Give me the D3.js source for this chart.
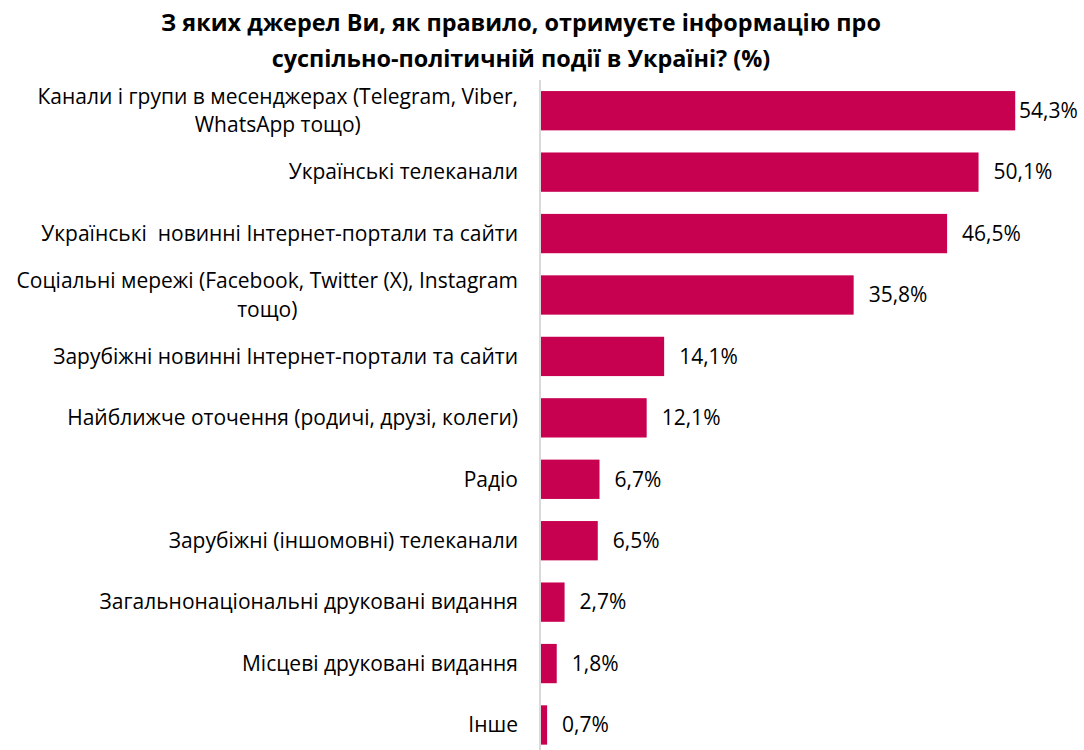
<!DOCTYPE html>
<html>
<head>
<meta charset="utf-8">
<script src="https://cdn.jsdelivr.net/npm/d3@7"></script>
<style>
  html, body { margin: 0; padding: 0; background: #fff; }
  svg { display: block; }
  text { white-space: pre; }
</style>
</head>
<body>
<svg id="chart" width="1084" height="750"></svg>
<script>
const titleLines = [
  "З яких джерел Ви, як правило, отримуєте інформацію про",
  "суспільно-політичній події в Україні? (%)"
];
const categories = [
  "Канали і групи в месенджерах (Telegram, Viber,\nWhatsApp тощо)",
  "Українські телеканали",
  "Українські  новинні Інтернет-портали та сайти",
  "Соціальні мережі (Facebook, Twitter (X), Instagram\nтощо)",
  "Зарубіжні новинні Інтернет-портали та сайти",
  "Найближче оточення (родичі, друзі, колеги)",
  "Радіо",
  "Зарубіжні (іншомовні) телеканали",
  "Загальнонаціональні друковані видання",
  "Місцеві друковані видання",
  "Інше"
];
const values = [54.3, 50.1, 46.5, 35.8, 14.1, 12.1, 6.7, 6.5, 2.7, 1.8, 0.7];
const valueLabels = ["54,3%", "50,1%", "46,5%", "35,8%", "14,1%", "12,1%", "6,7%", "6,5%", "2,7%", "1,8%", "0,7%"];

const W = 1084, H = 750;
const svg = d3.select("#chart");
const FONT = "'Open Sans', 'Noto Sans', sans-serif";
const BAR = "#C7004F";

const x = d3.scaleLinear().domain([0, 60]).range([541, 1065]);
const y = d3.scaleBand().domain(categories).range([80, 755.7])
  .paddingInner(0.36).paddingOuter(0.18);

// Title
svg.append("g").selectAll("text").data(titleLines).join("text")
  .attr("x", 521)
  .attr("y", (d, i) => 31 + i * 36)
  .attr("text-anchor", "middle")
  .attr("font-family", FONT)
  .attr("font-weight", "bold")
  .attr("font-size", 23.4)
  .attr("fill", "#000")
  .text(d => d);

// Bars
svg.append("g").selectAll("rect").data(values).join("rect")
  .attr("x", x(0))
  .attr("y", (d, i) => y(categories[i]))
  .attr("width", d => x(d) - x(0))
  .attr("height", y.bandwidth())
  .attr("fill", BAR);

// Axis line (category axis)
const yAxis = d3.axisLeft(y).tickSize(0).tickFormat("");
const axG = svg.append("g").attr("transform", `translate(${x(0) - 1},0)`).call(yAxis);
axG.select(".domain").attr("stroke", "#d9d9d9").attr("stroke-width", 2)
  .attr("d", `M0,80V${H}`);

// Category labels
const labelRight = 518;
const lineH = 28.5;
const lg = svg.append("g").attr("font-family", FONT).attr("font-size", 21).attr("fill", "#000");
categories.forEach((c, i) => {
  const lines = c.split("\n");
  const cy = y(c) + y.bandwidth() / 2;
  const g = lg.append("g");
  const texts = g.selectAll("text").data(lines).join("text")
    .attr("y", (d, j) => cy + (j - (lines.length - 1) / 2) * lineH)
    .attr("dy", "0.35em")
    .text(d => d);
  if (lines.length === 1) {
    texts.attr("x", labelRight).attr("text-anchor", "end");
  } else {
    let maxW = 0;
    texts.each(function() { maxW = Math.max(maxW, this.getComputedTextLength()); });
    texts.attr("x", labelRight - maxW / 2).attr("text-anchor", "middle");
  }
});

// Value labels
svg.append("g").selectAll("text").data(values).join("text")
  .attr("x", d => Math.min(x(d) + 15, W - 65))
  .attr("y", (d, i) => y(categories[i]) + y.bandwidth() / 2)
  .attr("dy", "0.35em")
  .attr("font-family", FONT)
  .attr("font-size", 21)
  .attr("fill", "#000")
  .text((d, i) => valueLabels[i]);
</script>
</body>
</html>
